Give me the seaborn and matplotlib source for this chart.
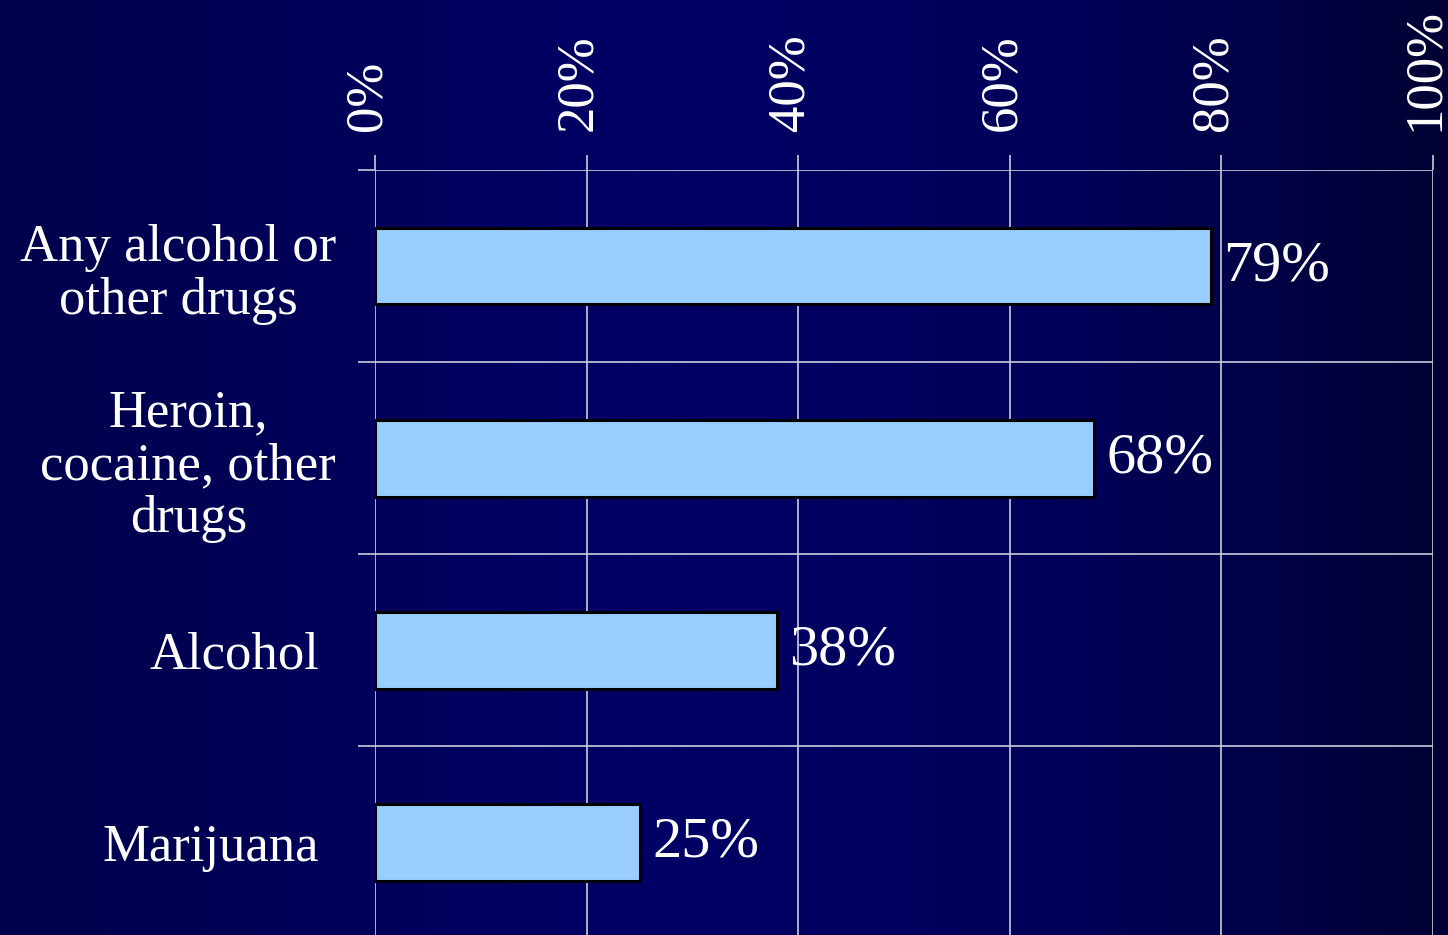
import numpy as np
import pandas as pd
import matplotlib
matplotlib.use("Agg")
import matplotlib.pyplot as plt
from matplotlib.colors import LinearSegmentedColormap
from matplotlib.transforms import ScaledTranslation
import seaborn as sns

# Data
categories = ["Any alcohol or\nother drugs", "Heroin,\ncocaine, other\ndrugs", "Alcohol", "Marijuana"]
percent = [79, 68, 38, 25]
x_ticks = [0, 20, 40, 60, 80, 100]
x_tick_labels = ["0%", "20%", "40%", "60%", "80%", "100%"]

df = pd.DataFrame({"category": categories, "percent": percent})

sns.set_style("white")
plt.rcParams["font.family"] = ["Liberation Serif", "DejaVu Serif"]

BAR_COLOR = "#99CCFF"
GRID_COLOR = "#CCCCDD"

fig = plt.figure(figsize=(14.48, 9.35), dpi=100)

# background gradient (dark navy, brighter left of centre)
bg = fig.add_axes([0, 0, 1, 1], zorder=-10)
bg_cmap = LinearSegmentedColormap.from_list(
    "navy", [(0.0, "#00004C"), (0.45, "#000066"), (0.75, "#000058"), (1.0, "#000034")])
bg.imshow(np.linspace(0, 1, 512)[None, :], aspect="auto", cmap=bg_cmap, extent=[0, 1, 0, 1])
bg.set_axis_off()

ax = fig.add_axes([0.259, -0.0035, 0.7306, 0.8217])
ax.set_facecolor("none")

sns.barplot(data=df, x="percent", y="category", orient="h", color=BAR_COLOR,
            edgecolor="black", linewidth=2.2, width=0.4, saturation=1, ax=ax)

ax.set_xlim(0, 100)
ax.set_ylim(3.5, -0.5)
ax.set_xlabel("")
ax.set_ylabel("")
ax.set_axisbelow(True)

# x axis on top, rotated percent labels
ax.xaxis.tick_top()
ax.set_xticks(x_ticks)
ax.set_xticklabels(x_tick_labels, rotation=90, fontsize=38, color="white")
ax.tick_params(axis="x", which="major", top=True, bottom=False, length=11, width=1.2,
               color=GRID_COLOR, pad=17)
for lab in ax.get_xticklabels():
    lab.set_transform(lab.get_transform() + ScaledTranslation(-8 / 100, 0, fig.dpi_scale_trans))
ax.grid(axis="x", which="major", color=GRID_COLOR, linewidth=1.2)

# category separators with outward tick marks
ax.set_yticks(np.arange(-0.5, len(categories)), minor=True)
ax.tick_params(axis="y", which="minor", left=True, length=12, width=1.2, color=GRID_COLOR)
ax.grid(axis="y", which="minor", color=GRID_COLOR, linewidth=1.2)
ax.tick_params(axis="y", which="major", length=0, pad=28)
ax.set_yticklabels(categories, fontsize=38, color="white", ha="right",
                   multialignment="center", linespacing=1.14)
shifts = [0, 0, 17, 17]
for lab, s in zip(ax.get_yticklabels(), shifts):
    lab.set_transform(lab.get_transform() + ScaledTranslation(-s / 100, 0, fig.dpi_scale_trans))

for sp in ax.spines.values():
    sp.set_visible(False)

ax.bar_label(ax.containers[0], labels=[f"{v}%" for v in percent], padding=9,
             fontsize=42, color="white")

fig.savefig("out.png", dpi=100)
